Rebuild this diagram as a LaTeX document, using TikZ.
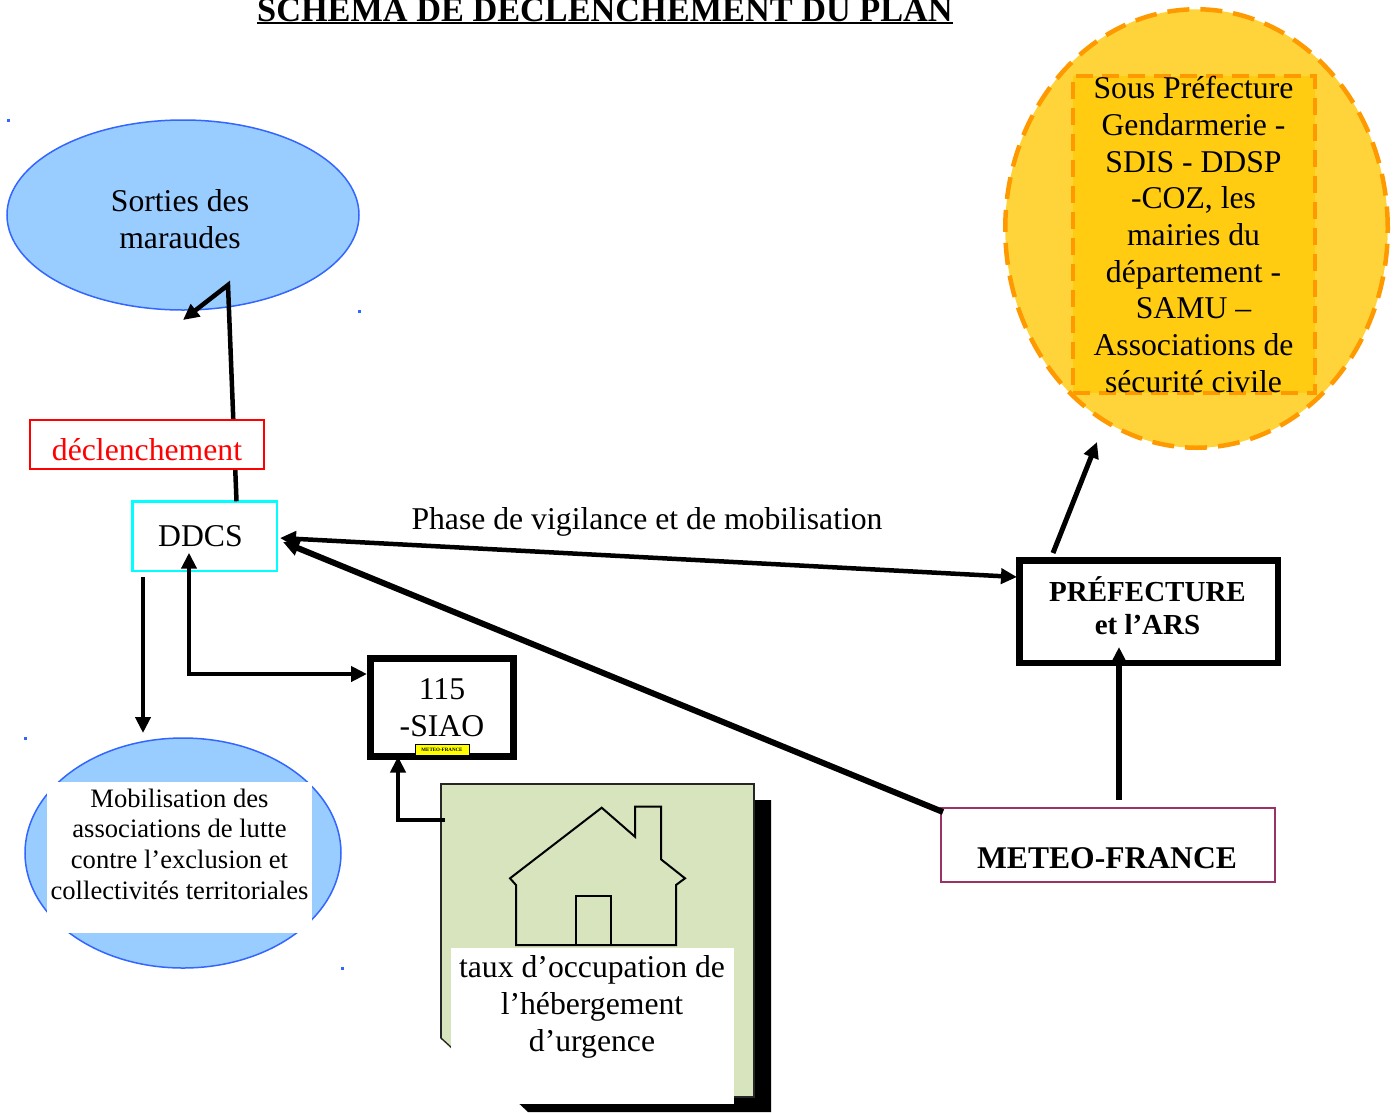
\documentclass[tikz,border=0pt]{standalone}
\usepackage{fontspec}
\setmainfont{Liberation Serif}
\usetikzlibrary{arrows.meta,shapes.geometric}
\definecolor{lblue}{HTML}{99CCFF}
\definecolor{eblue}{HTML}{3366FF}
\definecolor{hgreen}{HTML}{D7E4BD}
\definecolor{circfill}{HTML}{FFD43A}
\definecolor{rectfill}{HTML}{FFCC11}
\definecolor{dorange}{HTML}{FF9900}
\definecolor{meteoc}{HTML}{993366}
\definecolor{ddcscyan}{HTML}{00FFFF}
\definecolor{miniyellow}{HTML}{FFFF00}
\definecolor{declred}{HTML}{FF0000}
\newcommand{\fsbig}{\fontsize{31.7}{36.7}\selectfont}
\newcommand{\fsmid}{\fontsize{26.6}{30.6}\selectfont}
\begin{document}
\begin{tikzpicture}[x=1pt,y=-1pt,
  every node/.style={inner sep=0pt, outer sep=0pt},
  arr/.style={-{Triangle[length=16pt,width=15pt]}},
  darr/.style={{Triangle[length=16pt,width=15pt]}-{Triangle[length=16pt,width=15pt]}},
  bubble/.style={ellipse, draw=eblue, line width=1.5pt, fill=lblue},
  conn/.style={line width=4.5pt}]
\useasboundingbox (0,0) rectangle (1399,1112);
\fill[white] (0,0) rectangle (1399,1112);

% title
\node[anchor=base, font=\bfseries\fontsize{34.3}{40}\selectfont] (title) at (605,21) {SCHEMA DE DECLENCHEMENT DU PLAN};
\draw[line width=2pt] ([yshift=-2pt]title.base west) -- ([yshift=-2pt]title.base east);

% yellow circle
\node[ellipse, fill=circfill, draw=dorange, line width=4.5pt, dash pattern=on 22pt off 11pt,
      minimum width=382.5pt, minimum height=438.5pt] (circ) at (1196.5,228.5) {};
\node[fill=rectfill, draw=dorange, line width=4pt, dash pattern=on 17pt off 9pt,
      minimum width=242pt, minimum height=312.5pt, align=center, font=\fsbig] (sous) at (1193.5,234.5)
      {Sous Préfecture\\Gendarmerie -\\SDIS - DDSP\\-COZ, les\\mairies du\\département -\\SAMU –\\Associations de\\sécurité civile};

% blue corner dots
\fill[eblue] (7,119) rectangle (9.5,121.5);
\fill[eblue] (358,310) rectangle (360.5,312.5);
\fill[eblue] (24,737) rectangle (26.5,739.5);
\fill[eblue] (341,967) rectangle (343.5,969.5);

% sorties
\node[bubble, minimum width=352pt, minimum height=190pt] (sorties) at (183,215) {};
\node[align=center, font=\fsbig] (sortiestext) at (180,219) {Sorties des\\maraudes};

% DDCS
\node[draw=ddcscyan, line width=2.5pt, minimum width=144.5pt, minimum height=69.5pt] (ddcs) at (204.5,536) {};
\node[font=\fsbig] (ddcstext) at (200.5,536) {DDCS};
\coordinate (peak) at (228,285);
\coordinate (sortiestip) at (183,320);
\draw[conn, arr] ([xshift=32pt]ddcs.north) -- (peak) -- (sortiestip);
\node[draw=declred, line width=2pt, fill=white, minimum width=234pt, minimum height=49pt, text=declred,
      font=\fsbig, text height=31pt, text depth=0pt] (decl) at (147,444.5) {déclenchement};

% Prefecture and Meteo
\node[draw, line width=6.5pt, minimum width=258.5pt, minimum height=102.5pt] (pref) at (1148.5,611.5) {};
\node[align=center, font=\bfseries\fontsize{29}{33.3}\selectfont] (preftext) at (1147.5,606) {PRÉFECTURE\\et l’ARS};
\node[draw=meteoc, line width=2pt, minimum width=334pt, minimum height=74pt] (meteo) at (1108,844.7) {};
\node[anchor=base, font=\bfseries\fontsize{31.6}{36}\selectfont] (meteotext) at (1107,868.3) {METEO-FRANCE};
\draw[line width=5.5pt, arr] ([xshift=11pt,yshift=8pt]meteo.north) -- ([xshift=-29.5pt,yshift=15.75pt]pref.south);
\draw[line width=5pt, arr] ([xshift=33.75pt,yshift=7.25pt]pref.north west) -- ([xshift=-99.5pt,yshift=-213.5pt]circ.center);

% 115 SIAO
\node[draw, line width=7pt, minimum width=143pt, minimum height=98pt, align=center, font=\fsbig] (siao) at (442,707.5) {115\\-SIAO};
\node[draw, line width=0.6pt, fill=miniyellow, minimum width=54pt, minimum height=11pt,
      font=\bfseries\fontsize{5}{6}\selectfont] (mini) at (442,750) {METEO-FRANCE};
\draw[conn, darr] ([xshift=-15.5pt,yshift=-16.7pt]ddcs.center) |- ([xshift=-3.5pt,yshift=33.5pt]siao.west);

% mobilisation
\node[bubble, minimum width=316pt, minimum height=230pt] (mob) at (183,853) {};
\node[fill=white, minimum width=265pt, minimum height=151pt] (mobbox) at (179.5,857.5) {};
\node[align=center, font=\fsmid] (mobtext) at (179.5,844) {Mobilisation des\\associations de lutte\\contre l’exclusion et\\collectivités territoriales};
\draw[conn, arr] ([xshift=-61.5pt,yshift=-6pt]ddcs.south) -- ([xshift=-40pt,yshift=5pt]mob.north);

% hebergement
\fill (754,800) -- (771,800) -- (771,1112) -- (528,1112) -- (512,1097) -- (754,1097) -- cycle;
\node[fill=hgreen, draw=black!85, line width=1.3pt, minimum width=313pt, minimum height=313pt] (heb) at (597.5,940.5) {};
\fill[white] (440,1038) -- (501,1099) -- (439,1099) -- cycle;
\draw[line width=1.3pt, black!85] (441,1038) -- (452,1048);
\draw[line width=2pt, fill=hgreen, line join=miter] (601.7,807.7) -- (510,878.3) -- (516,885) -- (516,945) -- (676,945) -- (676,885) -- (685,878.3) -- (661,859.3) -- (661,806.7) -- (635,806.7) -- (635,836.7) -- cycle;
\draw[line width=2pt] (576,945) rectangle (611,896);
\node[fill=white, minimum width=283pt, minimum height=156pt] (heblabel) at (592.5,1026) {};
\node[align=center, font=\fsbig] (hebtext) at (592,1007) {taux d’occupation de\\l’hébergement\\d’urgence};
\draw[conn, arr] ([xshift=4pt,yshift=120.5pt]heb.west) -| ([xshift=-44pt]siao.south);

% phase and meteo arrows to DDCS
\draw[conn, darr] ([xshift=3.25pt,yshift=-2pt]ddcs.east) -- ([xshift=-2.25pt,yshift=34.5pt]pref.west);
\node[anchor=base, font=\fsbig] (phase) at (647,529) {Phase de vigilance et de mobilisation};
\draw[line width=6pt, arr] ([xshift=2pt,yshift=-4.3pt]meteo.north west) -- ([xshift=6.25pt,yshift=-6pt]ddcs.east);
\end{tikzpicture}
\end{document}
